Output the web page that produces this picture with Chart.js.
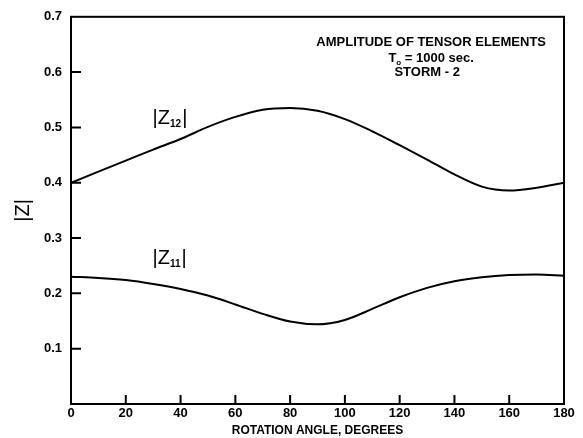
<!DOCTYPE html>
<html>
<head>
<meta charset="utf-8">
<script src="https://cdn.jsdelivr.net/npm/chart.js@4.4.1/dist/chart.umd.min.js"></script>
<style>
  html, body { margin: 0; padding: 0; background: #fff; }
</style>
</head>
<body>
<canvas id="grafico" width="583" height="438"></canvas>
<script>
// dados (amplitude vs angulo de rotacao)
const angles = [0, 10, 20, 30, 40, 50, 60, 70, 80, 90, 100, 110, 120, 130, 140, 150, 160, 170, 180];
const z12Values = [0.400, 0.420, 0.440, 0.460, 0.479, 0.501, 0.519, 0.532, 0.535, 0.530, 0.515, 0.493, 0.468, 0.442, 0.415, 0.393, 0.386, 0.391, 0.400];
const z11Values = [0.230, 0.228, 0.224, 0.217, 0.208, 0.196, 0.180, 0.163, 0.149, 0.144, 0.152, 0.172, 0.193, 0.210, 0.222, 0.229, 0.233, 0.234, 0.232];

const xTickValues = [0, 20, 40, 60, 80, 100, 120, 140, 160, 180];
const yTickValues = [0, 0.1, 0.2, 0.3, 0.4, 0.5, 0.6, 0.7];

// rotulos das curvas: [texto, subscrito, angulo, valor]
const curveLabels = [['|Z', '12', 36, 0.516], ['|Z', '11', 36, 0.263]];
const titleLines = ['AMPLITUDE OF TENSOR ELEMENTS', '= 1000 sec.', 'STORM - 2'];
const titleAngle = 131.5;
const titleValues = [0.654, 0.625, 0.600];

const FONT = "'Liberation Sans', Arial, sans-serif";

const framePlugin = {
  id: 'frame',
  afterDraw(chart) {
    const ctx = chart.ctx;
    const a = chart.chartArea;
    const xs = chart.scales.x, ys = chart.scales.y;
    ctx.save();
    ctx.strokeStyle = '#000';
    ctx.lineWidth = 2;
    ctx.strokeRect(a.left, a.top, a.right - a.left, a.bottom - a.top);

    // marcas para dentro
    ctx.beginPath();
    xTickValues.forEach(v => {
      if (v === xs.min || v === xs.max) return;
      const px = xs.getPixelForValue(v);
      ctx.moveTo(px, a.bottom);
      ctx.lineTo(px, a.bottom - 9);
    });
    yTickValues.forEach(v => {
      if (v === ys.min || v === ys.max) return;
      const py = ys.getPixelForValue(v);
      ctx.moveTo(a.left, py);
      ctx.lineTo(a.left + 10, py);
    });
    ctx.stroke();

    // rotulos |Z12| e |Z11|
    ctx.fillStyle = '#000';
    ctx.textBaseline = 'middle';
    curveLabels.forEach(([txt, sub, ang, val]) => {
      let x = xs.getPixelForValue(ang) - 17;
      const y = ys.getPixelForValue(val);
      ctx.textAlign = 'left';
      ctx.font = '20px ' + FONT;
      ctx.fillText(txt, x, y);
      x += ctx.measureText(txt).width;
      ctx.font = 'bold 10px ' + FONT;
      ctx.fillText(sub, x, y + 6);
      x += ctx.measureText(sub).width + 1;
      ctx.font = '20px ' + FONT;
      ctx.fillText('|', x, y);
    });

    // bloco de titulo
    const cx = xs.getPixelForValue(titleAngle);
    ctx.font = 'bold 13px ' + FONT;
    ctx.textAlign = 'center';
    ctx.fillText(titleLines[0], cx, ys.getPixelForValue(titleValues[0]));
    // T0 = 1000 sec.
    const y2 = ys.getPixelForValue(titleValues[1]);
    ctx.font = 'bold 13px ' + FONT;
    const wT = ctx.measureText('T').width;
    const wRest = ctx.measureText(' ' + titleLines[1]).width;
    ctx.font = 'bold 8px ' + FONT;
    const wSub = ctx.measureText('o').width;
    let sx = cx - (wT + wSub + wRest) / 2;
    ctx.textAlign = 'left';
    ctx.font = 'bold 13px ' + FONT;
    ctx.fillText('T', sx, y2);
    ctx.font = 'bold 8px ' + FONT;
    ctx.fillText('o', sx + wT, y2 + 5);
    ctx.font = 'bold 13px ' + FONT;
    ctx.fillText(' ' + titleLines[1], sx + wT + wSub, y2);
    ctx.textAlign = 'center';
    ctx.fillText(titleLines[2], cx - 4, ys.getPixelForValue(titleValues[2]));
    ctx.restore();
  }
};

const ctx = document.getElementById('grafico').getContext('2d');
new Chart(ctx, {
  type: 'line',
  data: {
    datasets: [
      {
        label: '|Z12|',
        data: angles.map((a, i) => ({ x: a, y: z12Values[i] })),
        borderColor: '#000',
        borderWidth: 2,
        pointRadius: 0,
        fill: false,
        cubicInterpolationMode: 'monotone'
      },
      {
        label: '|Z11|',
        data: angles.map((a, i) => ({ x: a, y: z11Values[i] })),
        borderColor: '#000',
        borderWidth: 2,
        pointRadius: 0,
        fill: false,
        cubicInterpolationMode: 'monotone'
      }
    ]
  },
  options: {
    responsive: false,
    animation: false,
    layout: { padding: { top: 15, right: 19, left: 0, bottom: 0 } },
    plugins: { legend: { display: false }, tooltip: { enabled: false } },
    scales: {
      x: {
        type: 'linear',
        min: 0,
        max: 180,
        afterBuildTicks: s => { s.ticks = xTickValues.map(v => ({ value: v })); },
        afterFit: s => { s.height = 34; },
        grid: { display: false, drawTicks: false },
        border: { display: false },
        ticks: {
          color: '#000',
          padding: 2,
          maxRotation: 0,
          autoSkip: false,
          font: { family: FONT, size: 13, weight: 'bold' }
        },
        title: {
          display: true,
          text: 'ROTATION ANGLE, DEGREES',
          color: '#000',
          padding: { top: 0, bottom: 0 },
          font: { family: FONT, size: 12, weight: 'bold' }
        }
      },
      y: {
        min: 0,
        max: 0.7,
        afterBuildTicks: s => { s.ticks = yTickValues.map(v => ({ value: v })); },
        afterFit: s => { s.width = 71; },
        grid: { display: false, drawTicks: false },
        border: { display: false },
        ticks: {
          color: '#000',
          padding: 9,
          font: { family: FONT, size: 13, weight: 'bold' },
          callback: v => (v === 0 ? '' : v.toFixed(1))
        },
        title: {
          display: true,
          text: '|Z|',
          color: '#000',
          padding: { top: 11, bottom: 0 },
          font: { family: FONT, size: 20 }
        }
      }
    }
  },
  plugins: [framePlugin]
});
</script>
</body>
</html>
